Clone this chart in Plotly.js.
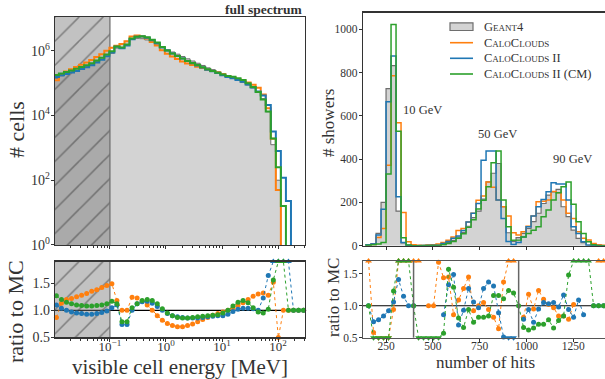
<!DOCTYPE html>
<html><head><meta charset="utf-8">
<script src="https://cdn.plot.ly/plotly-3.0.1.min.js"></script>
<style>html,body{margin:0;padding:0;background:#fff}#chart{width:605px;height:379px}</style>
</head><body><div id="chart"></div>
<script>
// ---------------- data: visible cell energy (left) ----------------
const energyLogMin = -2, energyLogMax = 2.5, nEnergyBins = 50;   // log10(MeV) binning
const cutMeV = 0.1;                                               // hatched region below this energy
const energyTickVals = [0.1, 1, 10, 100];
const energyTickText = ['10<sup>\u22121</sup>', '10<sup>0</sup>', '10<sup>1</sup>', '10<sup>2</sup>'];
const cellTickVals = [1, 100, 1e4, 1e6];
const cellTickText = ['10<sup>0</sup>', '10<sup>2</sup>', '10<sup>4</sup>', '10<sup>6</sup>'];

const g4Cells = [1.4e5,1.66e5,1.9e5,2.2e5,2.5e5,2.9e5,3.3e5,3.8e5,4.6e5,5.5e5,
  6.8e5,8.3e5,1.2e6,1.6e6,1.95e6,2.25e6,2.4e6,2.35e6,2.15e6,1.85e6,
  1.6e6,1.26e6,1.07e6,9.1e5,7.8e5,6.6e5,5.6e5,4.8e5,4.1e5,3.5e5,
  2.95e5,2.6e5,2.25e5,1.95e5,1.66e5,1.45e5,1.23e5,1.05e5,8.7e4,7.1e4,
  5.5e4,3.3e4,1.3e4,1.25e3,100,0,0,0,0,0];
const ccCells = [1.22e5,1.88e5,2.28e5,2.68e5,3.13e5,3.71e5,4.32e5,5.13e5,6.35e5,7.81e5,
  9.93e5,1.24e6,1.42e6,1.6e6,1.95e6,2.75e6,2.93e6,2.75e6,2.37e6,1.85e6,
  1.44e6,1.03e6,8.1e5,6.6e5,5.5e5,4.6e5,4.0e5,3.6e5,3.2e5,2.9e5,
  2.57e5,2.37e5,2.12e5,1.89e5,1.66e5,1.51e5,1.34e5,1.2e5,1.04e5,8.9e4,
  7.2e4,4.4e4,1.66e4,1.9e3,50,0,0,0,0,0];
const cc2Cells = [1.54e5,1.73e5,1.9e5,2.13e5,2.38e5,2.73e5,3.07e5,3.53e5,4.32e5,5.28e5,
  6.73e5,8.72e5,1.32e6,1.18e6,1.44e6,2.25e6,2.69e6,2.73e6,2.52e6,2.09e6,
  1.71e6,1.26e6,1.01e6,8.2e5,6.9e5,5.7e5,4.8e5,4.1e5,3.5e5,3.05e5,
  2.6e5,2.31e5,2.03e5,1.76e5,1.54e5,1.42e5,1.25e5,1.09e5,9.0e4,7.3e4,
  5.5e4,4.1e4,2.1e4,3.2e3,800,120,23,0,0,0];
const cc2cmCells = [1.78e5,1.99e5,2.19e5,2.46e5,2.75e5,3.16e5,3.56e5,4.1e5,5.0e5,6.05e5,
  7.6e5,9.7e5,1.34e6,1.26e6,1.54e6,2.36e6,2.69e6,2.77e6,2.58e6,2.18e6,
  1.79e6,1.3e6,1.02e6,8.2e5,6.8e5,5.7e5,4.8e5,4.2e5,3.6e5,3.1e5,
  2.66e5,2.37e5,2.07e5,1.85e5,1.66e5,1.57e5,1.41e5,1.24e5,9.9e4,7.5e4,
  5.3e4,3.1e4,1.33e4,1.95e3,250,16,0,0,0,0];

const ccRatioCells = [0.87,1.13,1.2,1.22,1.25,1.28,1.31,1.35,1.38,1.42,
  1.46,1.49,1.18,1.0,1.0,1.24,1.23,1.17,1.1,1.0,
  0.9,0.82,0.76,0.72,0.7,0.7,0.72,0.75,0.79,0.83,
  0.87,0.91,0.94,0.97,1.0,1.04,1.09,1.14,1.2,1.26,
  1.3,1.32,1.28,1.52,0.5,1.0,1.0,1.0,1.0,1.0];
const cc2RatioCells = [1.1,1.04,1.0,0.97,0.95,0.94,0.93,0.93,0.94,0.96,
  0.99,1.05,1.1,0.74,0.74,1.0,1.12,1.16,1.17,1.13,
  1.07,1.0,0.94,0.9,0.88,0.87,0.86,0.86,0.86,0.87,
  0.88,0.89,0.9,0.9,0.93,0.98,1.02,1.04,1.04,1.03,
  1.0,1.23,1.64,3,3,3,3,1.0,1.0,1.0];
const cc2cmRatioCells = [1.27,1.2,1.15,1.12,1.1,1.09,1.08,1.08,1.09,1.1,
  1.12,1.17,1.12,0.79,0.79,1.05,1.12,1.18,1.2,1.18,
  1.12,1.03,0.95,0.9,0.87,0.86,0.86,0.87,0.88,0.89,
  0.9,0.91,0.92,0.95,1.0,1.08,1.15,1.18,1.14,1.05,
  0.97,0.95,1.02,1.56,3,3,1.0,1.0,1.0,1.0];

// ---------------- data: number of hits (right) ----------------
const hitsFirstEdge = 143.2, hitsBinWidth = 26.7, nHitBins = 48;
const hitsTickVals = [250, 500, 750, 1000, 1250];
const energyLabels = ['10 GeV', '50 GeV', '90 GeV'];
const energyLabelX = [447, 843, 1248];
const energyLabelY = [627, 516, 400];
const regionSplitHits = [397, 958];   // borders between the 10/50/90 GeV ratio blocks

const g4Hits = [5,10,57,200,726,832,160,13,2,0,
  0,0,1,2,3,8,15,25,40,62,
  90,130,160,215,295,335,380,180,60,20,
  37,57,80,111,150,195,234,249,260,180,
  134,72,34,14,4,1,0,0];
const ccHits = [3,6,38,80,372,786,568,154,18,5,
  2,1,3,5,8,15,25,40,70,80,
  110,150,210,230,295,270,211,180,137,60,
  50,65,90,137,203,205,211,250,245,211,
  150,126,65,34,26,10,4,2];
const cc2Hits = [4,8,49,168,665,877,226,15,2,0,
  0,0,1,2,3,10,20,35,45,70,
  110,150,195,395,438,438,211,126,20,6,
  15,40,88,137,180,214,249,291,285,285,
  211,88,57,18,3,0,0,0];
const cc2cmHits = [2,4,8,15,331,1023,529,37,3,0,
  0,0,0,1,2,5,10,20,35,55,
  85,120,170,210,272,383,438,211,88,25,
  26,40,57,72,88,134,165,211,245,272,
  295,192,111,57,18,5,1,0];

const ccRatioHits = [3,0.58,0.2,0.2,0.2,0.94,3,3,3,3,
  3,null,1.0,1.0,1.68,1.44,1.45,0.86,1.09,1.27,
  1.45,0.92,1.0,1.05,0.94,0.82,0.64,1.37,3,3,
  null,0.82,1.18,0.95,1.24,1.1,1.02,0.97,0.84,0.84,
  0.79,1.02,null,null,null,null,3,3];
const cc2RatioHits = [1.0,0.75,0.78,0.84,0.92,1.06,1.41,1.15,1.0,1.0,
  null,null,null,null,null,0.86,1.33,1.49,0.7,0.93,
  1.27,1.06,0.97,1.27,1.37,1.31,0.89,0.51,0.2,0.2,
  null,0.79,0.94,0.74,0.95,1.05,1.03,1.05,0.98,1.17,
  0.94,0.82,1.09,0.86,null,1.0,1.0,1.0];
const cc2cmRatioHits = [1.0,0.2,0.2,0.2,0.2,1.23,3,3,3,1.0,
  0.2,0.2,0.2,0.2,0.2,0.57,1.57,1.29,0.81,0.66,
  0.94,0.74,0.82,0.82,0.84,1.16,1.16,1.11,1.24,1.2,
  1.0,0.66,0.62,0.65,0.71,0.71,0.78,0.65,0.77,0.84,
  1.48,3,3,3,3,1.0,1.0,1.0];

const seriesNames = ['Geant4', 'CaloClouds', 'CaloClouds II', 'CaloClouds II (CM)'];
const seriesColors = ['#808080', '#ff7f0e', '#1f77b4', '#2ca02c'];

// ---------------- helpers ----------------
const FONT = '"Liberation Serif", "DejaVu Serif", serif';
const TXT = '#333';
const eEdges = Array.from({length: nEnergyBins + 1}, (_, i) =>
  Math.pow(10, energyLogMin + (energyLogMax - energyLogMin) * i / nEnergyBins));
const eCenters = eEdges.slice(0, -1).map((e, i) => Math.sqrt(e * eEdges[i + 1]));
const hEdges = Array.from({length: nHitBins + 1}, (_, i) => hitsFirstEdge + hitsBinWidth * i);
const hCenters = hEdges.slice(0, -1).map((e, i) => (e + hEdges[i + 1]) / 2);

function stepPath(edges, counts, floor) {
  const x = [edges[0]], y = [floor];
  counts.forEach((c, i) => {
    const v = c > 0 ? c : floor;
    x.push(edges[i], edges[i + 1]); y.push(v, v);
  });
  x.push(edges[counts.length]); y.push(floor);
  return {x, y};
}

const traces = [];
function addHist(edges, counts, floor, xa, ya, idx, filled, width) {
  const p = stepPath(edges, counts, floor);
  const t = {type: 'scatter', mode: 'lines', x: p.x, y: p.y, xaxis: xa, yaxis: ya,
    name: seriesNames[idx], showlegend: false, hoverinfo: 'skip',
    line: {color: seriesColors[idx], width: width}};
  if (filled) { t.fill = 'toself'; t.fillcolor = '#d3d3d3'; t.line = {color: '#6e6e6e', width: width}; }
  traces.push(t);
}
function addRatio(xs, vals, idx, ymin, ymax, xa, ya) {
  const col = seriesColors[idx];
  const clipped = vals.map(v => v === null ? null : Math.min(Math.max(v, ymin), ymax));
  traces.push({type: 'scatter', mode: 'lines', x: xs, y: clipped, xaxis: xa, yaxis: ya,
    showlegend: false, hoverinfo: 'skip', line: {color: col, width: 1, dash: 'dot'}});
  const pick = f => xs.map((x, i) => f(vals[i]) ? x : null).filter(x => x !== null);
  const inX = pick(v => v !== null && v >= ymin && v <= ymax);
  const inY = vals.filter(v => v !== null && v >= ymin && v <= ymax);
  traces.push({type: 'scatter', mode: 'markers', x: inX, y: inY, xaxis: xa, yaxis: ya,
    showlegend: false, hoverinfo: 'skip', cliponaxis: false,
    marker: {color: col, size: 5, symbol: 'circle'}});
  const upX = pick(v => v !== null && v > ymax);
  traces.push({type: 'scatter', mode: 'markers', x: upX, y: upX.map(() => ymax), xaxis: xa, yaxis: ya,
    showlegend: false, hoverinfo: 'skip', cliponaxis: false,
    marker: {color: col, size: 6, symbol: 'triangle-up'}});
  const dnX = pick(v => v !== null && v < ymin);
  traces.push({type: 'scatter', mode: 'markers', x: dnX, y: dnX.map(() => ymin), xaxis: xa, yaxis: ya,
    showlegend: false, hoverinfo: 'skip', cliponaxis: false,
    marker: {color: col, size: 6, symbol: 'triangle-down'}});
}
function hatch(xa, ya, y0, y1) {
  traces.push({type: 'scatter', mode: 'lines', xaxis: xa, yaxis: ya, showlegend: false, hoverinfo: 'skip',
    x: [0.005, cutMeV, cutMeV, 0.005, 0.005], y: [y0, y0, y1, y1, y0],
    fill: 'toself', fillcolor: 'rgba(120,120,120,0.45)',
    fillpattern: {shape: '/', fgcolor: '#3a3a3a', size: 17, solidity: 0.09, fillmode: 'overlay'},
    line: {color: '#6a6a6a', width: 1.2}});
}

// left main
addHist(eEdges, g4Cells, 1e-2, 'x', 'y', 0, true, 1);
hatch('x', 'y', 1e-3, 1e9);
addHist(eEdges, ccCells, 1e-2, 'x', 'y', 1, false, 2);
addHist(eEdges, cc2Cells, 1e-2, 'x', 'y', 2, false, 2);
addHist(eEdges, cc2cmCells, 1e-2, 'x', 'y', 3, false, 2);
// left ratio
hatch('x2', 'y2', 0, 3);
addRatio(eCenters, ccRatioCells, 1, 0.5, 1.9, 'x2', 'y2');
addRatio(eCenters, cc2RatioCells, 2, 0.5, 1.9, 'x2', 'y2');
addRatio(eCenters, cc2cmRatioCells, 3, 0.5, 1.9, 'x2', 'y2');
// right main
addHist(hEdges, g4Hits, 0, 'x3', 'y3', 0, true, 1.2);
addHist(hEdges, ccHits, 0, 'x3', 'y3', 1, false, 1.5);
addHist(hEdges, cc2Hits, 0, 'x3', 'y3', 2, false, 1.5);
addHist(hEdges, cc2cmHits, 0, 'x3', 'y3', 3, false, 1.5);
// right ratio
addRatio(hCenters, ccRatioHits, 1, 0.5, 1.7, 'x4', 'y4');
addRatio(hCenters, cc2RatioHits, 2, 0.5, 1.7, 'x4', 'y4');
addRatio(hCenters, cc2cmRatioHits, 3, 0.5, 1.7, 'x4', 'y4');

const minorLog = [];
for (let d = -2; d <= 2; d++) for (let m = 2; m <= 9; m++) minorLog.push(m * Math.pow(10, d));

const axBase = {showline: true, mirror: true, linecolor: '#333', linewidth: 1.2, ticks: 'outside',
  ticklen: 3, tickcolor: '#333', showgrid: false, zeroline: false, tickfont: {family: FONT, color: TXT}};
const logX = Object.assign({}, axBase, {type: 'log', range: [-1.98, 2.48], tickvals: energyTickVals,
  ticktext: energyTickText, domain: [0.0909, 0.5041], ticklabelstandoff: -6,
  minor: {ticks: 'outside', ticklen: 2, tickcolor: '#333', tickvals: minorLog}});
const linX = Object.assign({}, axBase, {range: [127, 1419], tickvals: hitsTickVals, domain: [0.6, 1.0],
  ticklabelstandoff: -6});

// hand-drawn legend (paper pixels -> fractions)
const W = 605, H = 379;
const legX0 = 450, legX1 = 473, legTextX = 482, legRowsY = [26.7, 42.7, 58.3, 74];
const px = x => x / W, py = y => 1 - y / H;
const legendShapes = legRowsY.map((yy, i) => i === 0
  ? {type: 'rect', xref: 'paper', yref: 'paper', x0: px(legX0), x1: px(legX1), y0: py(yy + 3.8), y1: py(yy - 3.8),
     fillcolor: '#d3d3d3', line: {color: '#6e6e6e', width: 1.2}}
  : {type: 'line', xref: 'paper', yref: 'paper', x0: px(legX0), x1: px(legX1), y0: py(yy), y1: py(yy),
     line: {color: seriesColors[i], width: 1.6}});
const legendTexts = legRowsY.map((yy, i) => ({text: seriesNames[i], xref: 'paper', yref: 'paper',
  x: px(legTextX), y: py(yy), xanchor: 'left', yanchor: 'middle', showarrow: false,
  font: {family: FONT, size: 12.5, color: TXT, variant: 'small-caps'}}));

function label(text, x, y, size, angle) {
  return {text: text, xref: 'paper', yref: 'paper', x: px(x), y: py(y),
    xanchor: 'center', yanchor: 'middle', textangle: angle || 0, showarrow: false,
    font: {family: FONT, size: size, color: TXT}};
}

const layout = {
  width: W, height: H, margin: {l: 0, r: 0, t: 0, b: 0},
  paper_bgcolor: '#fff', plot_bgcolor: '#fff', font: {family: FONT, color: TXT},
  showlegend: false,
  xaxis: Object.assign({}, logX, {anchor: 'y', showticklabels: false}),
  yaxis: Object.assign({}, axBase, {type: 'log', range: [0, 7.04], domain: [0.3536, 0.9551], anchor: 'x',
    ticklabelstandoff: -2,
    tickvals: cellTickVals, ticktext: cellTickText, tickfont: {family: FONT, color: TXT, size: 14}}),
  xaxis2: Object.assign({}, logX, {anchor: 'y2', tickfont: {family: FONT, color: TXT, size: 13}}),
  yaxis2: Object.assign({}, axBase, {range: [0.5, 1.9], domain: [0.1095, 0.3100], anchor: 'x2',
    ticklabelstandoff: -2,
    tickvals: [0.5, 1.0, 1.5], tickformat: '.1f', tickfont: {family: FONT, color: TXT, size: 14}}),
  xaxis3: Object.assign({}, linX, {anchor: 'y3', showticklabels: false}),
  yaxis3: Object.assign({}, axBase, {range: [0, 1077], domain: [0.3517, 0.9665], anchor: 'x3', mirror: false,
    ticklabelstandoff: -1,
    tickvals: [0, 200, 400, 600, 800, 1000], tickfont: {family: FONT, color: TXT, size: 11.5}}),
  xaxis4: Object.assign({}, linX, {anchor: 'y4', linecolor: '#555', tickfont: {family: FONT, color: TXT, size: 11.5}}),
  yaxis4: Object.assign({}, axBase, {range: [0.5, 1.7], domain: [0.109, 0.3113], anchor: 'x4', mirror: false,
    ticklabelstandoff: -1,
    linecolor: '#555', tickvals: [0.5, 1.0, 1.5], tickformat: '.1f', tickfont: {family: FONT, color: TXT, size: 11.5}}),
  shapes: [
    {type: 'line', xref: 'x2 domain', yref: 'y2', x0: 0, x1: 1, y0: 1, y1: 1, line: {color: '#000', width: 1.2}, layer: 'below'},
    {type: 'line', xref: 'x4 domain', yref: 'y4', x0: 0, x1: 1, y0: 1, y1: 1, line: {color: '#000', width: 1.2}, layer: 'below'},
  ].concat(regionSplitHits.map(v => ({type: 'line', xref: 'x4', yref: 'y4 domain', x0: v, x1: v, y0: 0, y1: 1,
    line: {color: '#666', width: 1.5}}))).concat(legendShapes),
  annotations: [
    {text: '<b>full spectrum</b>', xref: 'paper', yref: 'paper', x: px(305), y: py(9.5), xanchor: 'right', yanchor: 'middle',
      showarrow: false, font: {family: FONT, size: 13.5, color: TXT}},
    label('# cells', 17, 130, 22, -90),
    label('ratio to MC', 15, 312, 22, -90),
    label('visible cell energy [MeV]', 179.5, 367, 21, 0),
    label('# showers', 328, 123, 17, -90),
    label('ratio to MC', 333, 298, 17, -90),
    label('number of hits', 486, 362, 17, 0),
  ].concat(energyLabels.map((t, i) => ({text: t, xref: 'x3', yref: 'y3', x: energyLabelX[i], y: energyLabelY[i],
    xanchor: 'center', yanchor: 'middle', showarrow: false, font: {family: FONT, size: 12.5, color: TXT}})))
   .concat(legendTexts)
};

Plotly.newPlot('chart', traces, layout, {staticPlot: true, displayModeBar: false});
</script>
</body></html>
